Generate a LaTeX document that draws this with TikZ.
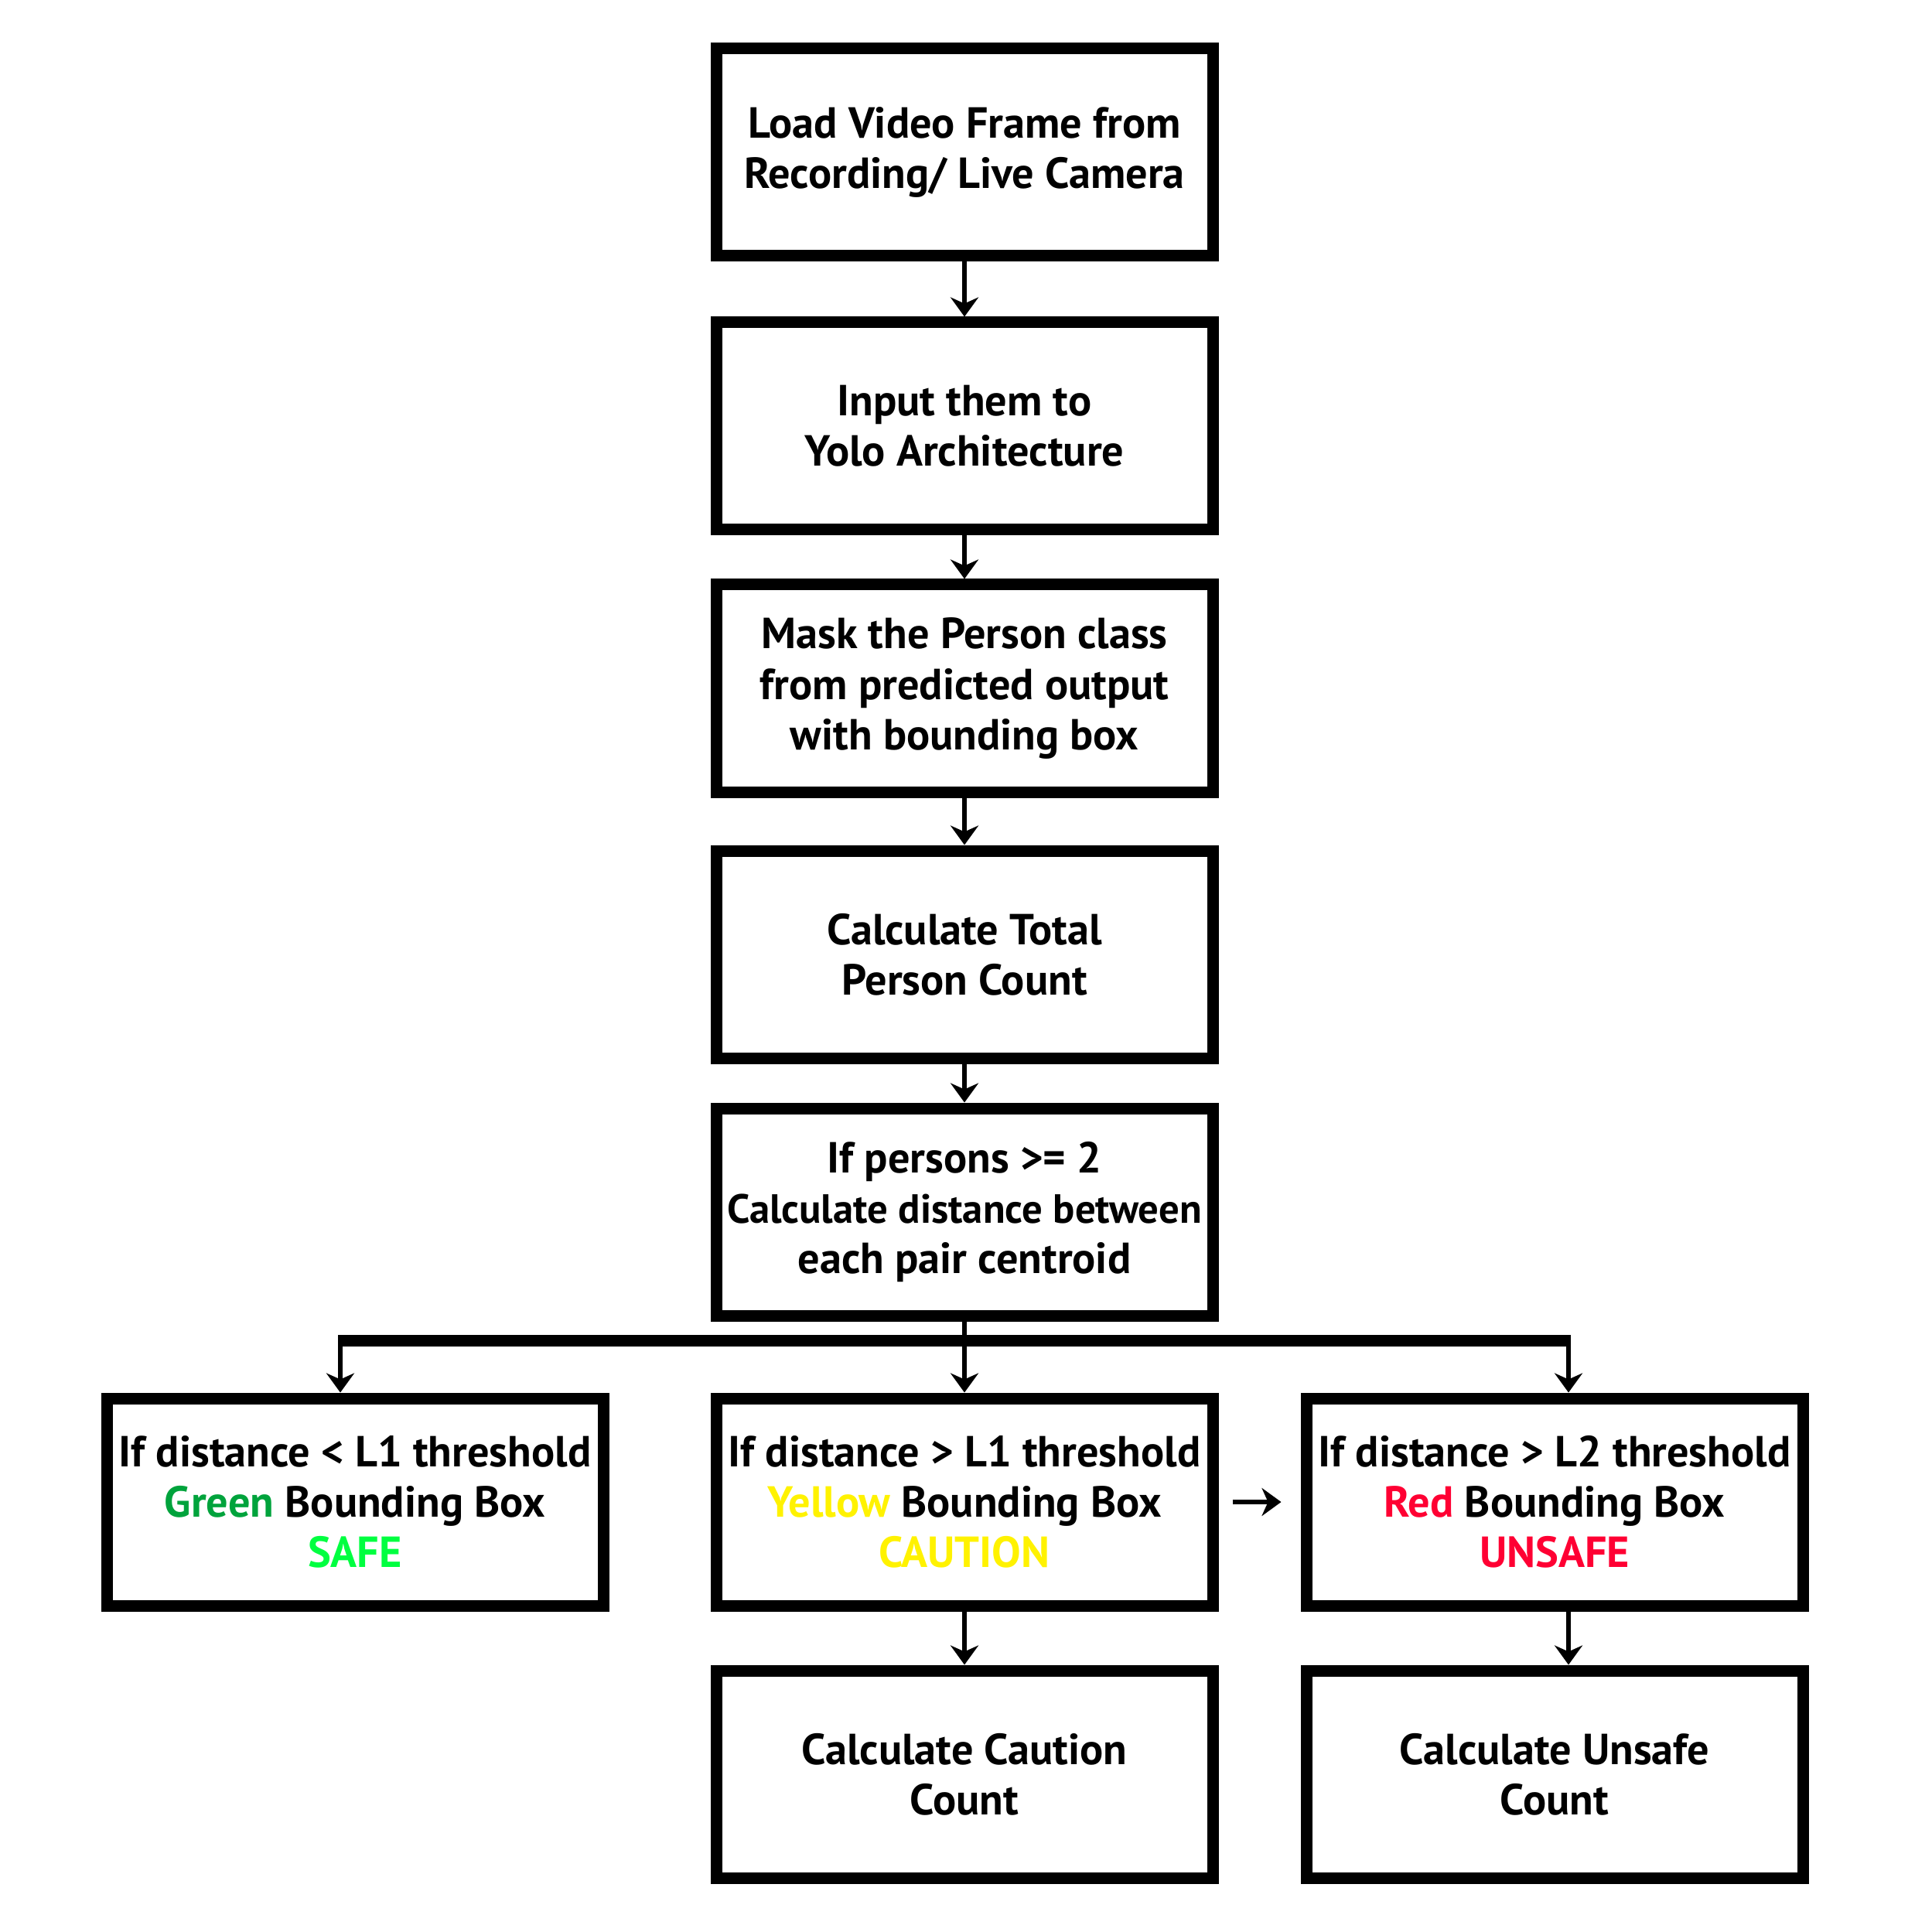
\documentclass[tikz,border=0pt]{standalone}
\usepackage{fontspec}
\setmainfont{PT Sans}
\usetikzlibrary{positioning, arrows.meta}

\definecolor{boxgreen}{RGB}{0,163,60}
\definecolor{safegreen}{RGB}{0,255,64}
\definecolor{boxyellow}{RGB}{255,242,0}
\definecolor{boxred}{RGB}{255,0,51}

\begin{document}
\begin{tikzpicture}[
    block/.style={
            rectangle,
            draw,
            line width=0.15cm,
            minimum width=6.42cm,
            minimum height=2.68cm,
            inner sep=0.06cm,
            align=center,
            font=\fontsize{16}{18.5}\selectfont\bfseries},
    arr/.style={-{Stealth[length=0.25cm,width=0.36cm,inset=0.08cm]},line width=0.055cm},
    node distance=0.59cm]

\useasboundingbox (0,0) rectangle (24.98,-24.98);

%main column==========================================================
\node[block] (1) at (12.47,-1.97) {Load Video Frame from\\Recording/ Live Camera};
\node[block,below=0.71cm of 1] (2) {Input them to\\Yolo Architecture};
\node[block,below=0.56cm of 2] (3) {Mask the Person class\\from predicted output\\with bounding box};
\node[block,below=0.61cm of 3] (4) {Calculate Total\\Person Count};
\node[block,below=0.50cm of 4] (5) {If persons >= 2\\\fontsize{15}{18}\selectfont Calculate distance between\\each pair centroid};

\draw[arr] (1)--(2);
\draw[arr] (2)--(3);
\draw[arr] (3)--(4);
\draw[arr] (4)--(5);
%=======================================================================

%thresholds============================================================
\node[block,below=0.92cm of 5] (7) {If distance > L1 threshold\\\textcolor{boxyellow}{Yellow} Bounding Box\\\textcolor{boxyellow}{CAUTION}};
\node[block,left=1.31cm of 7] (6) {If distance < L1 threshold\\\textcolor{boxgreen}{Green} Bounding Box\\\textcolor{safegreen}{SAFE}};
\node[block,right=1.06cm of 7] (8) {If distance > L2 threshold\\\textcolor{boxred}{Red} Bounding Box\\\textcolor{boxred}{UNSAFE}};

\coordinate (busL) at (4.40,-17.33);
\coordinate (busR) at (20.28,-17.33);
\coordinate (busM) at (5.south |- busL);

\draw[line width=0.055cm] (5)--(busM);
\draw[line width=0.15cm] ([xshift=-0.0275cm]busL)--([xshift=0.0275cm]busR);
\draw[arr] (busL)--(busL |- 6.north);
\draw[arr] (busM)--(7);
\draw[arr] (busR)--(busR |- 8.north);
\draw[arr,shorten <=0.18cm,shorten >=0.25cm] (7)--(8);
%=======================================================================

%counts================================================================
\node[block,below=0.69cm of 7] (9) {Calculate Caution\\Count};
\node[block,below=0.69cm of 8] (10) {Calculate Unsafe\\Count};

\draw[arr] (7)--(9);
\draw[arr] (8.south -| busR)--(10.north -| busR);
%=======================================================================

\end{tikzpicture}
\end{document}
